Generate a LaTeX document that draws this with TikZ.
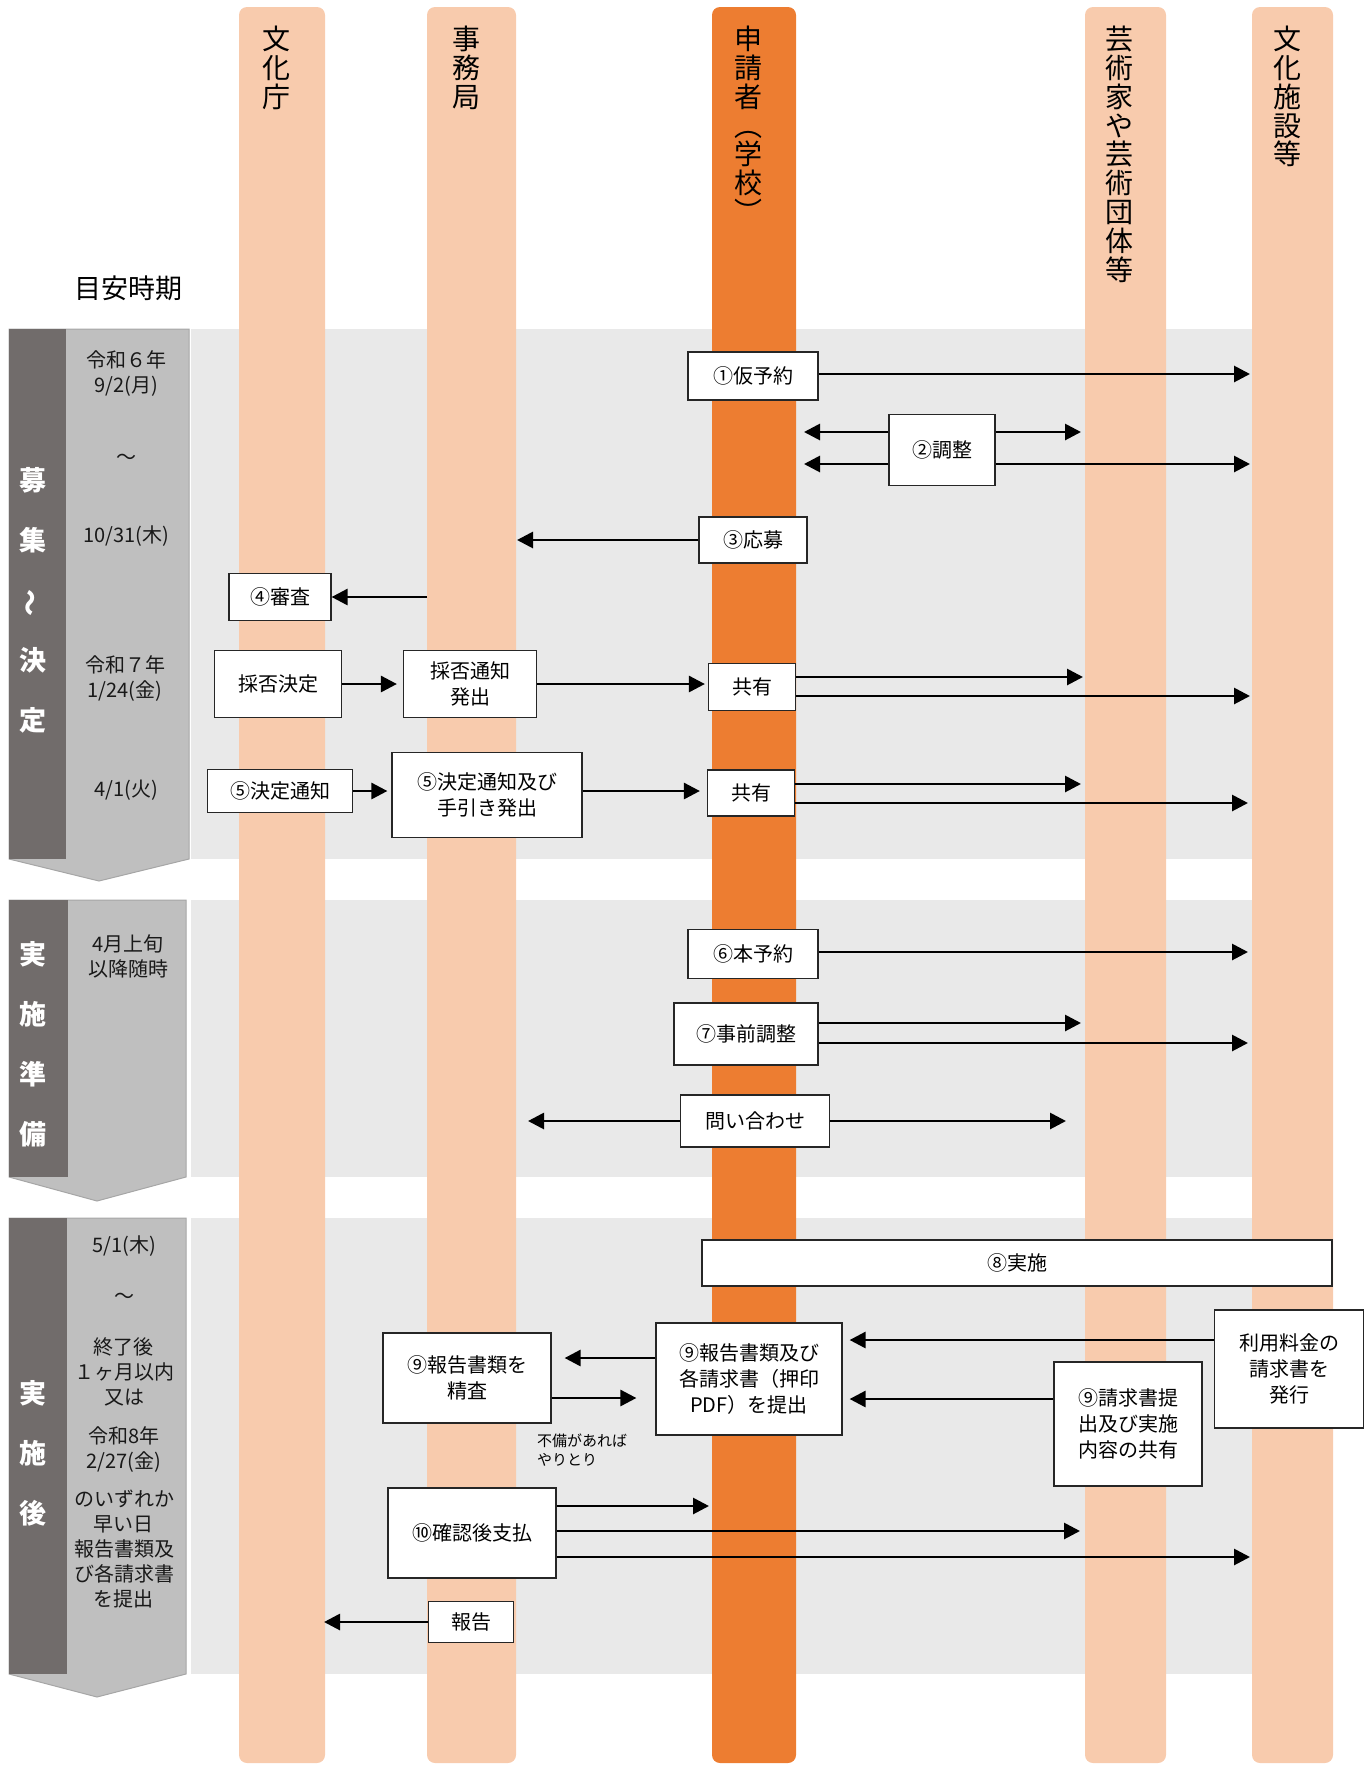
\documentclass[tikz,border=0pt]{standalone}
\usepackage{fontspec}
\setmainfont{Noto Sans CJK JP}
\usepackage{graphicx}
\usetikzlibrary{arrows.meta}
\definecolor{peach}{HTML}{F8CBAD}
\definecolor{carrot}{HTML}{ED7D31}
\definecolor{band}{HTML}{E9E9E9}
\definecolor{slate}{HTML}{716C6B}
\definecolor{ash}{HTML}{BFBFBF}
\definecolor{ashline}{HTML}{A6A6A6}

\begin{document}
\begin{tikzpicture}[x=1pt,y=-1pt]

  % Default look
  \tikzset{
    every node/.style={inner sep=0pt},
    lanebar/.style={fill=peach, rounded corners=8pt},
    lanetext/.style={anchor=north, align=center, font=\fontsize{28}{28.8}\selectfont},
    stepbox/.style={draw=black!85, line width=1.2pt, fill=white, align=center,
      font=\fontsize{20}{26}\selectfont},
    flow/.style={line width=2.8pt, -{Triangle[length=16pt,width=16pt]}},
    datetext/.style={align=center, font=\fontsize{20}{25}\selectfont, text=black!90},
    phasetext/.style={align=center, text=white, font=\bfseries\fontsize{27}{60}\selectfont},
    phasebody/.style={fill=ash, draw=ashline, line width=1pt},
    phasestrip/.style={fill=slate}
  }

  \useasboundingbox (0,0) rectangle (1369,1765);

  % Phase bands
  \fill[band] (191,329) rectangle (1252,859);
  \fill[band] (191,900) rectangle (1252,1177);
  \fill[band] (191,1218) rectangle (1252,1674);

  % Phase arrows on the left
  \path[phasebody] (9,329) -- (189,329) -- (189,859) -- (99,881) -- (9,859) -- cycle;
  \fill[phasestrip] (9,329) rectangle (66,859);
  \path[phasebody] (9,900) -- (186,900) -- (186,1177) -- (97,1201) -- (9,1177) -- cycle;
  \fill[phasestrip] (9,900) rectangle (68,1177);
  \path[phasebody] (9,1218) -- (186,1218) -- (186,1674) -- (97,1697) -- (9,1674) -- cycle;
  \fill[phasestrip] (9,1218) rectangle (67,1674);

  \node[phasetext] (phase1) at (33,600) {募\\集\\\rotatebox[origin=c]{90}{〜}\\決\\定};
  \node[phasetext] (phase2) at (33,1044) {実\\施\\準\\備};
  \node[phasetext] (phase3) at (33,1453) {実\\施\\後};

  % Lanes
  \fill[lanebar] (239,7) rectangle (325,1763);
  \fill[lanebar] (427,7) rectangle (516,1763);
  \fill[lanebar, fill=carrot] (712,7) rectangle (796,1763);
  \fill[lanebar] (1085,7) rectangle (1166,1763);
  \fill[lanebar] (1252,7) rectangle (1333,1763);

  \node[lanetext] (bunka) at (276,26) {文\\化\\庁};
  \node[lanetext] (jimu) at (466,26) {事\\務\\局};
  \node[lanetext] (shinsei) at (748,26) {申\\請\\者\\︵\\学\\校\\︶};
  \node[lanetext] (geijutsu) at (1119,26) {芸\\術\\家\\や\\芸\\術\\団\\体\\等};
  \node[lanetext] (shisetsu) at (1287,26) {文\\化\\施\\設\\等};

  % Time column
  \node[font=\fontsize{27}{30}\selectfont] (meyasu) at (128,288) {目安時期};

  \node[datetext] (d1a) at (126,374) {令和６年\\9/2(月)};
  \node[datetext] (d1b) at (126,459) {～};
  \node[datetext] (d1c) at (126,536) {10/31(木)};
  \node[datetext] (d1d) at (125,679) {令和７年\\1/24(金)};
  \node[datetext] (d1e) at (126,790) {4/1(火)};

  \node[datetext] (d2a) at (128,956) {4月上旬\\以降随時};

  \node[datetext] (d3a) at (124,1246) {5/1(木)};
  \node[datetext] (d3b) at (124,1298) {～};
  \node[datetext] (d3c) at (124,1372) {終了後\\１ヶ月以内\\又は};
  \node[datetext] (d3d) at (124,1450) {令和8年\\2/27(金)};
  \node[datetext] (d3e) at (124,1549) {のいずれか\\早い日\\報告書類及\\び各請求書\\を提出};

  % Phase 1: recruitment to decision
  \node[stepbox, minimum width=130pt, minimum height=48pt] (kari) at (753,376) {①仮予約};
  \node[stepbox, minimum width=106pt, minimum height=71pt] (chosei) at (942,450) {②調整};
  \node[stepbox, minimum width=108pt, minimum height=46pt] (oubo) at (753,540) {③応募};
  \node[stepbox, minimum width=102pt, minimum height=47pt] (shinsa) at (280,597) {④審査};
  \node[stepbox, minimum width=127pt, minimum height=67pt] (saihi) at (278,684) {採否決定};
  \node[stepbox, minimum width=133pt, minimum height=67pt] (tsuchi) at (470,684) {採否通知\\発出};
  \node[stepbox, minimum width=87pt, minimum height=47pt] (kyoyu1) at (752,687) {共有};
  \node[stepbox, minimum width=145pt, minimum height=43pt] (kettei) at (280,791) {⑤決定通知};
  \node[stepbox, minimum width=190pt, minimum height=85pt] (tebiki) at (487,795) {⑤決定通知及び\\手引き発出};
  \node[stepbox, minimum width=87pt, minimum height=46pt] (kyoyu2) at (751,793) {共有};

  % Phase 2: preparation
  \node[stepbox, minimum width=130pt, minimum height=49pt] (honyoyaku) at (753,954) {⑥本予約};
  \node[stepbox, minimum width=144pt, minimum height=62pt] (jizen) at (746,1034) {⑦事前調整};
  \node[stepbox, minimum width=149pt, minimum height=52pt] (toiawase) at (755,1121) {問い合わせ};

  % Phase 3: after
  \node[stepbox, minimum width=630pt, minimum height=46pt] (jisshi) at (1017,1263) {⑧実施};
  \node[stepbox, minimum width=186pt, minimum height=112pt] (teishutsu) at (749,1379) {⑨報告書類及び\\各請求書（押印\\PDF）を提出};
  \node[stepbox, minimum width=168pt, minimum height=90pt] (seisa) at (467,1378) {⑨報告書類を\\精査};
  \node[stepbox, minimum width=149pt, minimum height=118pt] (seikyu) at (1289,1369) {利用料金の\\請求書を\\発行};
  \node[stepbox, minimum width=148pt, minimum height=124pt] (kyoyu3) at (1128,1424) {⑨請求書提\\出及び実施\\内容の共有};
  \node[stepbox, minimum width=168pt, minimum height=90pt] (shiharai) at (472,1533) {⑩確認後支払};
  \node[stepbox, minimum width=85pt, minimum height=41pt] (hokoku) at (471,1622) {報告};

  \node[anchor=north west, align=left, font=\fontsize{15}{19}\selectfont] (fubi) at (537,1434) {不備があれば\\やりとり};

  % Free ends on the lanes
  \coordinate (e-kari) at (1250,374);
  \coordinate (e-cho-l1) at (804,432);
  \coordinate (e-cho-r1) at (1081,432);
  \coordinate (e-cho-l2) at (804,464);
  \coordinate (e-cho-r2) at (1250,464);
  \coordinate (e-oubo) at (517,540);
  \coordinate (s-shinsa) at (427,597);
  \coordinate (e-kyo1a) at (1083,677);
  \coordinate (e-kyo1b) at (1250,696);
  \coordinate (e-kyo2a) at (1081,784);
  \coordinate (e-kyo2b) at (1248,803);
  \coordinate (e-hon) at (1248,952);
  \coordinate (e-jizen-a) at (1081,1023);
  \coordinate (e-jizen-b) at (1248,1043);
  \coordinate (e-toi-l) at (528,1121);
  \coordinate (e-toi-r) at (1066,1121);
  \coordinate (m-back) at (600,1358);
  \coordinate (m-fwd) at (600,1398);
  \coordinate (m-bill) at (1000,1340);
  \coordinate (m-share) at (1000,1399);
  \coordinate (e-shi-a) at (709,1506);
  \coordinate (e-shi-b) at (1080,1531);
  \coordinate (e-shi-c) at (1250,1557);
  \coordinate (e-hokoku) at (324,1622);

  % Arrows
  \draw[flow] (kari.east |- e-kari) -- (e-kari);
  \draw[flow] (chosei.west |- e-cho-l1) -- (e-cho-l1);
  \draw[flow] (chosei.east |- e-cho-r1) -- (e-cho-r1);
  \draw[flow] (chosei.west |- e-cho-l2) -- (e-cho-l2);
  \draw[flow] (chosei.east |- e-cho-r2) -- (e-cho-r2);
  \draw[flow] (oubo) -- (e-oubo);
  \draw[flow] (s-shinsa) -- (shinsa.east |- s-shinsa);
  \draw[flow, shorten >=6pt] (saihi) -- (tsuchi);
  \draw[flow, shorten >=3pt] (tsuchi.east) -- (kyoyu1.west |- tsuchi.east);
  \draw[flow] (kyoyu1.east |- e-kyo1a) -- (e-kyo1a);
  \draw[flow] (kyoyu1.east |- e-kyo1b) -- (e-kyo1b);
  \draw[flow, shorten >=4pt] (kettei) -- (tebiki.west |- kettei);
  \draw[flow, shorten >=7pt] (tebiki.east |- kettei) -- (kyoyu2.west |- kettei);
  \draw[flow] (kyoyu2.east |- e-kyo2a) -- (e-kyo2a);
  \draw[flow] (kyoyu2.east |- e-kyo2b) -- (e-kyo2b);

  \draw[flow] (honyoyaku.east |- e-hon) -- (e-hon);
  \draw[flow] (jizen.east |- e-jizen-a) -- (e-jizen-a);
  \draw[flow] (jizen.east |- e-jizen-b) -- (e-jizen-b);
  \draw[flow] (toiawase) -- (e-toi-l);
  \draw[flow] (toiawase) -- (e-toi-r);

  \draw[flow, shorten >=13pt] (teishutsu.west |- m-back) -- (seisa.east |- m-back);
  \draw[flow, shorten >=19pt] (seisa.east |- m-fwd) -- (teishutsu.west |- m-fwd);
  \draw[flow, shorten >=7pt] (seikyu.west |- m-bill) -- (teishutsu.east |- m-bill);
  \draw[flow, shorten >=7pt] (kyoyu3.west |- m-share) -- (teishutsu.east |- m-share);
  \draw[flow] (shiharai.east |- e-shi-a) -- (e-shi-a);
  \draw[flow] (shiharai.east |- e-shi-b) -- (e-shi-b);
  \draw[flow] (shiharai.east |- e-shi-c) -- (e-shi-c);
  \draw[flow] (hokoku) -- (e-hokoku);

\end{tikzpicture}
\end{document}
